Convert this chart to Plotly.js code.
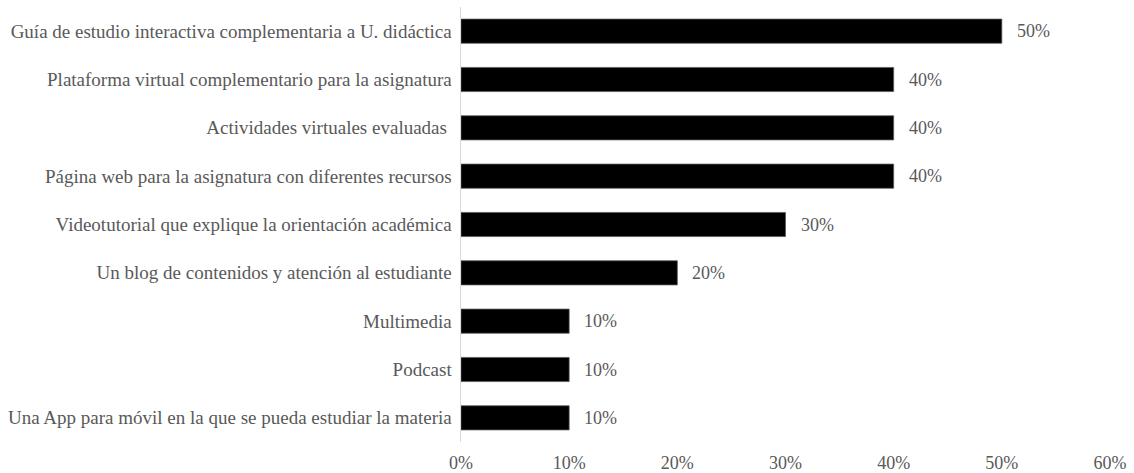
<!DOCTYPE html>
<html><head><meta charset="utf-8">
<script src="https://cdn.plot.ly/plotly-3.0.1.min.js"></script>
<style>html,body{margin:0;padding:0;background:#fff}#c{width:1134px;height:473px}</style>
</head><body><div id="c"></div>
<script>
const categories = [
  "Guía de estudio interactiva complementaria a U. didáctica",
  "Plataforma virtual complementario para la asignatura",
  "Actividades virtuales evaluadas\u00a0",
  "Página web para la asignatura con diferentes recursos",
  "Videotutorial que explique la orientación académica",
  "Un blog de contenidos y atención al estudiante",
  "Multimedia",
  "Podcast",
  "Una App para móvil en la que se pueda estudiar la materia"
];
const values = [0.5, 0.4, 0.4, 0.4, 0.3, 0.2, 0.1, 0.1, 0.1];
const tickVals = [0, 0.1, 0.2, 0.3, 0.4, 0.5, 0.6];
const tickText = ["0%", "10%", "20%", "30%", "40%", "50%", "60%"];

const font = {family: "Liberation Serif, Times New Roman, serif", size: 18, color: "#595959"};
const catFont = {family: "Liberation Serif, Times New Roman, serif", size: 19, color: "#595959"};

const annotations = categories.map((c, i) => ({
  x: values[i], y: c, xref: "x", yref: "y",
  text: Math.round(values[i] * 100) + "%",
  showarrow: false, xanchor: "left", yanchor: "middle", xshift: 13,
  font: font
}));

Plotly.newPlot("c", [{
  type: "bar", orientation: "h",
  x: values, y: categories,
  marker: {color: "#000000", line: {color: "#595959", width: 0.75}},
  hoverinfo: "none"
}], {
  width: 1134, height: 473,
  margin: {l: 461, r: 24, t: 7, b: 31},
  paper_bgcolor: "#fff", plot_bgcolor: "#fff",
  bargap: 0.5,
  showlegend: false,
  font: font,
  xaxis: {
    range: [0, 0.6], tickvals: tickVals, ticktext: tickText,
    showgrid: false, zeroline: false, showline: false,
    ticks: "outside", ticklen: 4, tickcolor: "rgba(0,0,0,0)",
    tickfont: font, fixedrange: true
  },
  yaxis: {
    autorange: "reversed", type: "category",
    showgrid: false, zeroline: false,
    showline: true, linecolor: "#d9d9d9", linewidth: 1.5,
    ticks: "outside", ticklen: 4, tickcolor: "rgba(0,0,0,0)",
    tickfont: catFont, fixedrange: true
  },
  annotations: annotations
}, {displayModeBar: false, staticPlot: true});
</script></body></html>
